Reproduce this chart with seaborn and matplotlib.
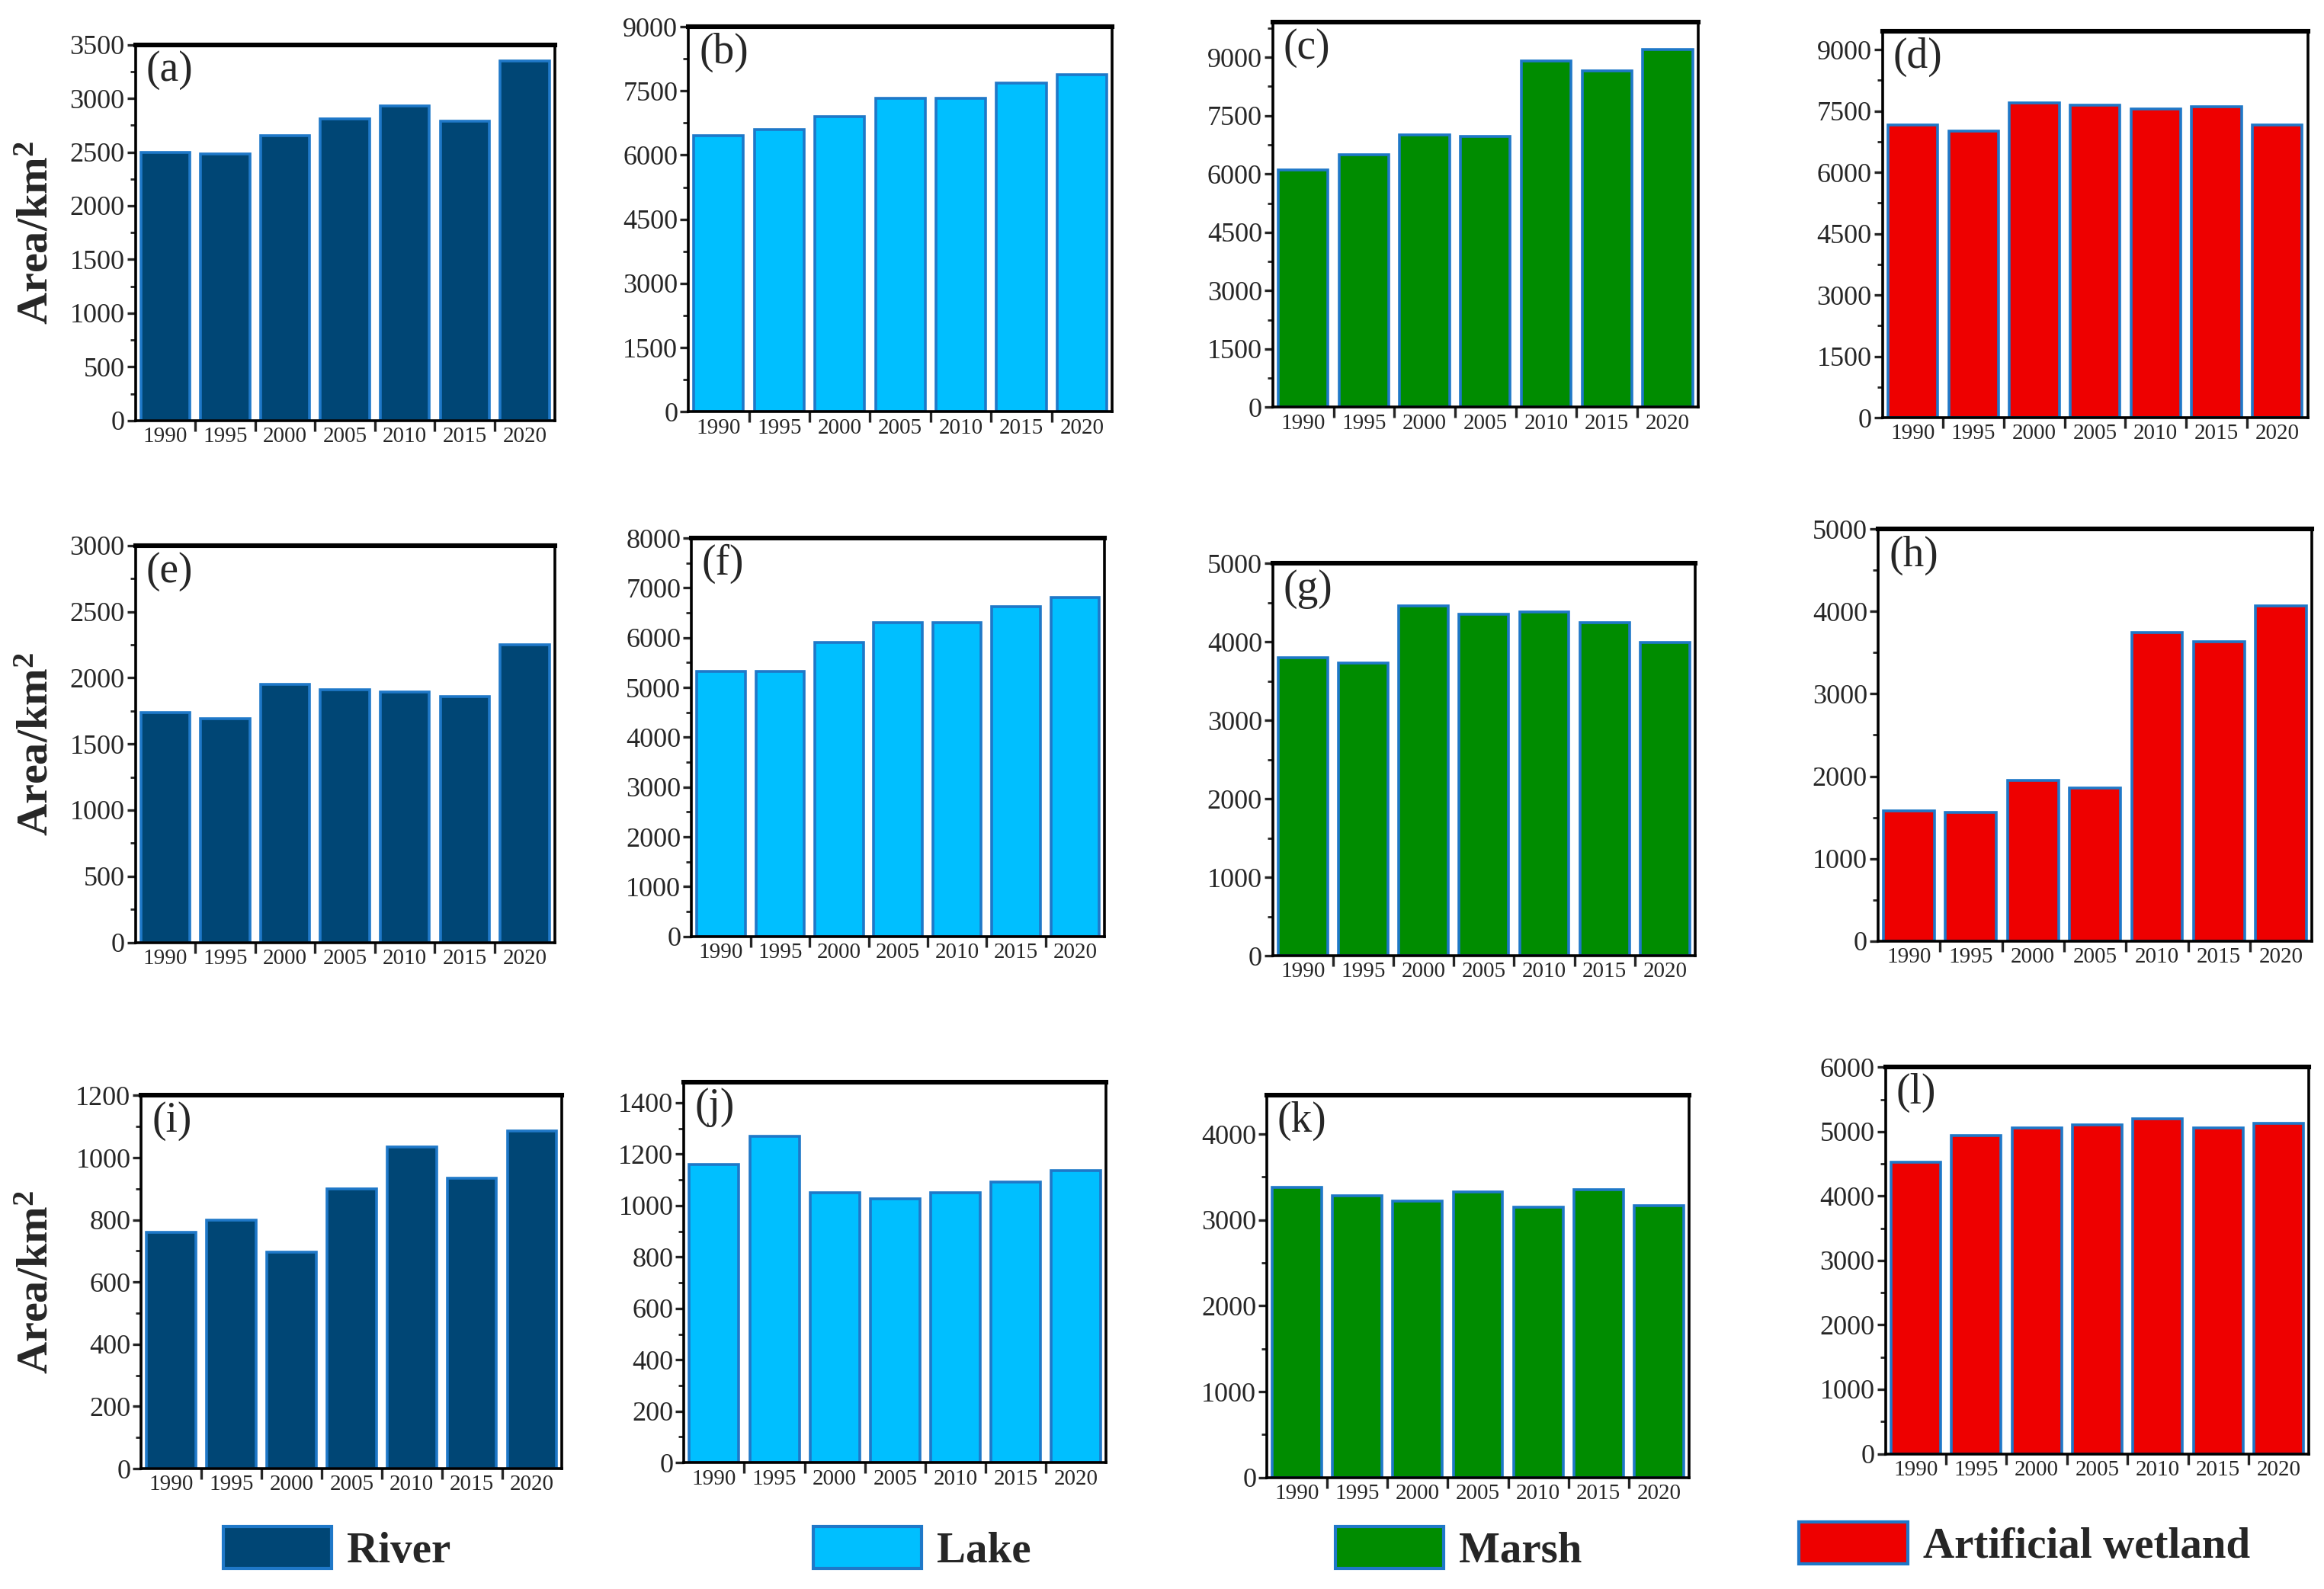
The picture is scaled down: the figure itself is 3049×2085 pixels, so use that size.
import matplotlib.pyplot as plt
import seaborn as sb
from matplotlib.patches import Patch
from matplotlib.ticker import MultipleLocator, AutoMinorLocator

years = ['1990', '1995', '2000', '2005', '2010', '2015', '2020']

# row 1
river_a = [2500, 2480, 2650, 2810, 2930, 2790, 3350]
lake_b = [6450, 6600, 6900, 7330, 7330, 7680, 7880]
marsh_c = [6100, 6500, 7000, 6960, 8900, 8650, 9200]
wetland_d = [7150, 7000, 7700, 7650, 7550, 7600, 7150]
# row 2
river_e = [1740, 1690, 1950, 1910, 1890, 1860, 2250]
lake_f = [5330, 5330, 5900, 6300, 6300, 6620, 6810]
marsh_g = [3800, 3730, 4460, 4350, 4380, 4240, 3990]
wetland_h = [1580, 1560, 1950, 1860, 3740, 3630, 4070]
# row 3
river_i = [760, 800, 695, 900, 1035, 935, 1085]
lake_j = [1160, 1270, 1050, 1025, 1050, 1090, 1135]
marsh_k = [3380, 3280, 3220, 3330, 3150, 3350, 3170]
wetland_l = [4530, 4940, 5060, 5100, 5200, 5060, 5130]

panel_letters = list('abcdefghijkl')
panel_data = [river_a, lake_b, marsh_c, wetland_d,
              river_e, lake_f, marsh_g, wetland_h,
              river_i, lake_j, marsh_k, wetland_l]
legend_names = ['River', 'Lake', 'Marsh', 'Artificial wetland']
colors = ['#004675', '#00bfff', '#008c00', '#ee0000']
edge = '#1f78c8'

ytops = [3500, 9000, 9900, 9450, 3000, 8000, 5000, 5000, 1200, 1480, 4450, 6000]
ysteps = [500, 1500, 1500, 1500, 500, 1000, 1000, 1000, 200, 200, 1000, 1000]

# axes boxes in reference-pixel units (left, top, right, bottom) of a 1563x1069 view
W, H = 1563, 1069
boxes = [(91, 30, 373, 283), (463, 18, 748, 277), (856, 15, 1142, 274), (1266, 21, 1552, 281),
         (91, 367, 373, 634), (465, 362, 743, 630), (856, 379, 1140, 643), (1263, 356, 1555, 633),
         (95, 737, 378, 988), (460, 728, 744, 984), (852, 737, 1136, 994), (1268, 718, 1553, 978)]

sb.set_style('ticks')
plt.rcParams['font.family'] = ['Liberation Serif', 'DejaVu Serif']
plt.rcParams['mathtext.default'] = 'regular'

fig = plt.figure(figsize=(3049 / 200, 2085 / 200), dpi=200)

for k in range(12):
    l, t, r, b = boxes[k]
    ax = fig.add_axes([l / W, 1 - b / H, (r - l) / W, (b - t) / H])
    sb.barplot(x=years, y=panel_data[k], color=colors[k % 4], saturation=1,
               edgecolor=edge, linewidth=1.3, width=0.82, ax=ax)
    ax.set_xlim(-0.5, 6.5)
    ax.set_ylim(0, ytops[k])
    ax.yaxis.set_major_locator(MultipleLocator(ysteps[k]))
    ax.yaxis.set_minor_locator(AutoMinorLocator(2))
    ax.set_xticks([i + 0.5 for i in range(6)], minor=True)
    ax.tick_params(axis='x', which='major', length=0, labelsize=10.5, pad=3)
    ax.tick_params(axis='x', which='minor', length=5, width=1.2, direction='out')
    ax.tick_params(axis='y', which='major', length=4, width=1.2, labelsize=13, pad=1)
    ax.tick_params(axis='y', which='minor', length=2.5, width=1)
    ax.set_xlabel('')
    ax.set_ylabel('')
    for s in ['left', 'bottom', 'right']:
        ax.spines[s].set_linewidth(1.3)
        ax.spines[s].set_color('black')
    ax.spines['top'].set_linewidth(2.2)
    ax.spines['top'].set_color('black')
    ax.text(0.025, 0.985, '(' + panel_letters[k] + ')', transform=ax.transAxes,
            va='top', ha='left', fontsize=20)

# y labels for first column
for t, b in [(30, 283), (367, 634), (737, 988)]:
    fig.text(25 / W, 1 - (t + b) / 2 / H, 'Area/km$^{2}$', rotation=90,
             ha='center', va='center', fontsize=21, fontweight='bold')

# legend entries along the bottom
legend_x = [150, 547, 898, 1210]
legend_y = [1042, 1042, 1042, 1039]
for name, c, x, y in zip(legend_names, colors, legend_x, legend_y):
    fig.legend(handles=[Patch(facecolor=c, edgecolor=edge, linewidth=1.5, label=name)],
               loc='center left', bbox_to_anchor=(x / W, 1 - y / H), frameon=False,
               borderpad=0, borderaxespad=0, handlelength=2.5, handleheight=1.1,
               handletextpad=0.35, prop={'size': 20.5, 'weight': 'bold'})

plt.savefig('out.png', dpi=200)
